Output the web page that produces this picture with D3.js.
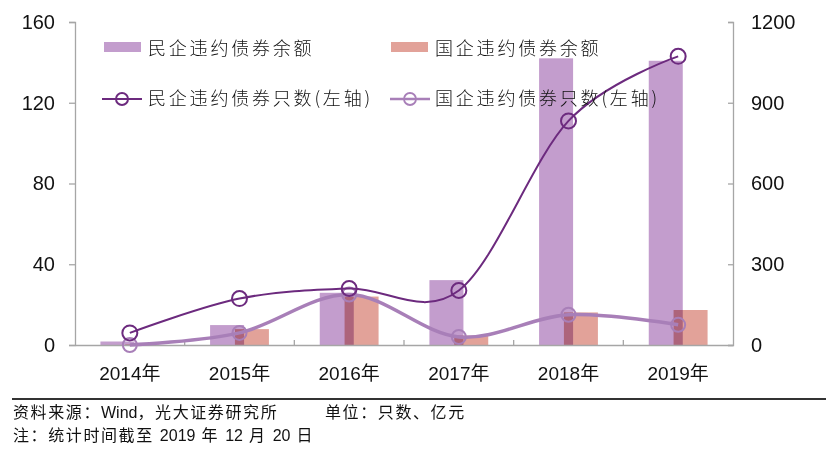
<!DOCTYPE html>
<html>
<head>
<meta charset="utf-8">
<script src="https://cdnjs.cloudflare.com/ajax/libs/d3/7.8.5/d3.min.js"></script>
<style>
  html, body { margin: 0; padding: 0; background: #fff; }
  svg { display: block; }
  text { font-family: "Liberation Sans", Arial, "Noto Sans CJK SC", sans-serif; fill: #111; }
</style>
</head>
<body>
<div id="chart"></div>
<script>
// 数据
var years = ["2014年", "2015年", "2016年", "2017年", "2018年", "2019年"];
var privAmount = [13, 74, 194, 241, 1065, 1056];   // 民企违约债券余额(亿元, 右轴)
var soeAmount = [2, 59, 180, 35, 121, 130];        // 国企违约债券余额(亿元, 右轴)
var privCount = [6, 23, 28, 27, 111, 143];         // 民企违约债券只数(左轴)
var soeCount = [0, 6, 25, 4, 15, 10];              // 国企违约债券只数(左轴)
var leftTicks = [0, 40, 80, 120, 160];
var rightTicks = [0, 300, 600, 900, 1200];

var W = 838, H = 462;
var margin = {top: 22, right: 105, bottom: 117, left: 75};
var iw = W - margin.left - margin.right;
var ih = H - margin.top - margin.bottom;

var PURPLE = "#c39dcd", PINK = "#e2a299";
var LINE1 = "#6c2a7e", LINE2 = "#a87fb8";
var AXIS = "#a6a6a6";

var svg = d3.select("#chart").append("svg").attr("width", W).attr("height", H);
var g = svg.append("g").attr("transform", "translate(" + margin.left + "," + margin.top + ")");

var x = d3.scaleBand().domain(years).range([0, iw]).padding(0);
var yL = d3.scaleLinear().domain([0, 160]).range([ih, 0]);
var yR = d3.scaleLinear().domain([0, 1200]).range([ih, 0]);

var bw = x.bandwidth();
var barW = bw * 0.31;
var overlap = barW * 0.27;
function cx(d) { return x(d) + bw / 2; }

// 柱子
g.selectAll(".bar-p").data(years).enter().append("rect")
  .attr("class", "bar-p")
  .attr("x", function(d) { return cx(d) - barW + overlap / 2; })
  .attr("y", function(d, i) { return yR(privAmount[i]); })
  .attr("width", barW)
  .attr("height", function(d, i) { return ih - yR(privAmount[i]); })
  .attr("fill", PURPLE);

g.selectAll(".bar-s").data(years).enter().append("rect")
  .attr("class", "bar-s")
  .attr("x", function(d) { return cx(d) - overlap / 2; })
  .attr("y", function(d, i) { return yR(soeAmount[i]); })
  .attr("width", barW)
  .attr("height", function(d, i) { return ih - yR(soeAmount[i]); })
  .attr("fill", PINK)
  .style("mix-blend-mode", "multiply");

// 坐标轴
var axL = g.append("g").call(d3.axisLeft(yL).tickValues(leftTicks).tickSize(6).tickPadding(14));
axL.select(".domain").attr("stroke", AXIS).attr("stroke-width", 1.3);
axL.selectAll(".tick line").attr("stroke", AXIS).attr("stroke-width", 1.3);
axL.selectAll("text").attr("font-size", 20).attr("fill", "#111");

var axR = g.append("g").attr("transform", "translate(" + iw + ",0)")
  .call(d3.axisRight(yR).tickValues(rightTicks).tickFormat(d3.format("d")).tickSize(-5).tickPadding(18));
axR.select(".domain").attr("stroke", AXIS).attr("stroke-width", 1.3);
axR.selectAll(".tick line").attr("stroke", AXIS).attr("stroke-width", 1.3);
axR.selectAll("text").attr("font-size", 20).attr("fill", "#111").attr("x", 18);

var axB = g.append("g").attr("transform", "translate(0," + ih + ")")
  .call(d3.axisBottom(x).tickSize(0).tickPadding(0));
axB.select(".domain").attr("stroke", AXIS).attr("stroke-width", 1.5);
axB.selectAll("text").attr("font-size", 19).attr("fill", "#111").attr("y", 35).attr("dy", 0);
// 分类间的小刻度
axB.selectAll(".sep").data(years.slice(1)).enter().append("line")
  .attr("class", "sep")
  .attr("x1", function(d) { return x(d); }).attr("x2", function(d) { return x(d); })
  .attr("y1", 0).attr("y2", -5)
  .attr("stroke", AXIS).attr("stroke-width", 1.3);

// 折线
function drawLine(vals, color, width, r, sw) {
  var line = d3.line()
    .x(function(d, i) { return cx(years[i]); })
    .y(function(d) { return yL(d); })
    .curve(d3.curveCardinal.tension(0));
  g.append("path").datum(vals)
    .attr("d", line)
    .attr("fill", "none")
    .attr("stroke", color)
    .attr("stroke-width", width);
  g.selectAll(null).data(vals).enter().append("circle")
    .attr("cx", function(d, i) { return cx(years[i]); })
    .attr("cy", function(d) { return yL(d); })
    .attr("r", r)
    .attr("fill", "none")
    .attr("stroke", color)
    .attr("stroke-width", sw);
}
drawLine(soeCount, LINE2, 3.5, 7, 2);
drawLine(privCount, LINE1, 2, 7.5, 2);

// 图例
var lg = svg.append("g");
function legText(xp, yp, t) {
  lg.append("text").attr("x", xp).attr("y", yp).text(t)
    .attr("font-size", 18)
    .attr("letter-spacing", 2.8)
    .style("font-family", "'Noto Sans CJK SC', sans-serif")
    .style("font-weight", 300);
}
lg.append("rect").attr("x", 104).attr("y", 42).attr("width", 37).attr("height", 10).attr("fill", PURPLE);
legText(148, 55, "民企违约债券余额");
lg.append("rect").attr("x", 391).attr("y", 42).attr("width", 37).attr("height", 10).attr("fill", PINK);
legText(435, 55, "国企违约债券余额");

lg.append("line").attr("x1", 102).attr("x2", 142).attr("y1", 99).attr("y2", 99)
  .attr("stroke", LINE1).attr("stroke-width", 2);
lg.append("circle").attr("cx", 122).attr("cy", 99).attr("r", 6)
  .attr("fill", "none").attr("stroke", LINE1).attr("stroke-width", 2);
legText(148, 105, "民企违约债券只数(左轴)");
lg.append("line").attr("x1", 390).attr("x2", 430).attr("y1", 99).attr("y2", 99)
  .attr("stroke", LINE2).attr("stroke-width", 2.5);
lg.append("circle").attr("cx", 410).attr("cy", 99).attr("r", 6)
  .attr("fill", "none").attr("stroke", LINE2).attr("stroke-width", 1.8);
legText(435, 105, "国企违约债券只数(左轴)");

// 底部说明
svg.append("line").attr("x1", 12).attr("x2", 826).attr("y1", 399).attr("y2", 399)
  .attr("stroke", "#333").attr("stroke-width", 2);
// 中文部分加字距, 英文数字不加
function note(xp, yp, parts) {
  var t = svg.append("text").attr("x", xp).attr("y", yp).attr("font-size", 16).attr("fill", "#111");
  parts.forEach(function(p) {
    t.append("tspan").text(p).attr("letter-spacing", /[A-Za-z0-9]/.test(p) ? 0 : 1.6);
  });
}
note(13, 418, ["资料来源：", "Wind", "，光大证券研究所"]);
note(325, 418, ["单位：只数、亿元"]);
note(13, 441, ["注：统计时间截至 ", "2019", " 年 ", "12", " 月 ", "20", " 日"]);
</script>
</body>
</html>
